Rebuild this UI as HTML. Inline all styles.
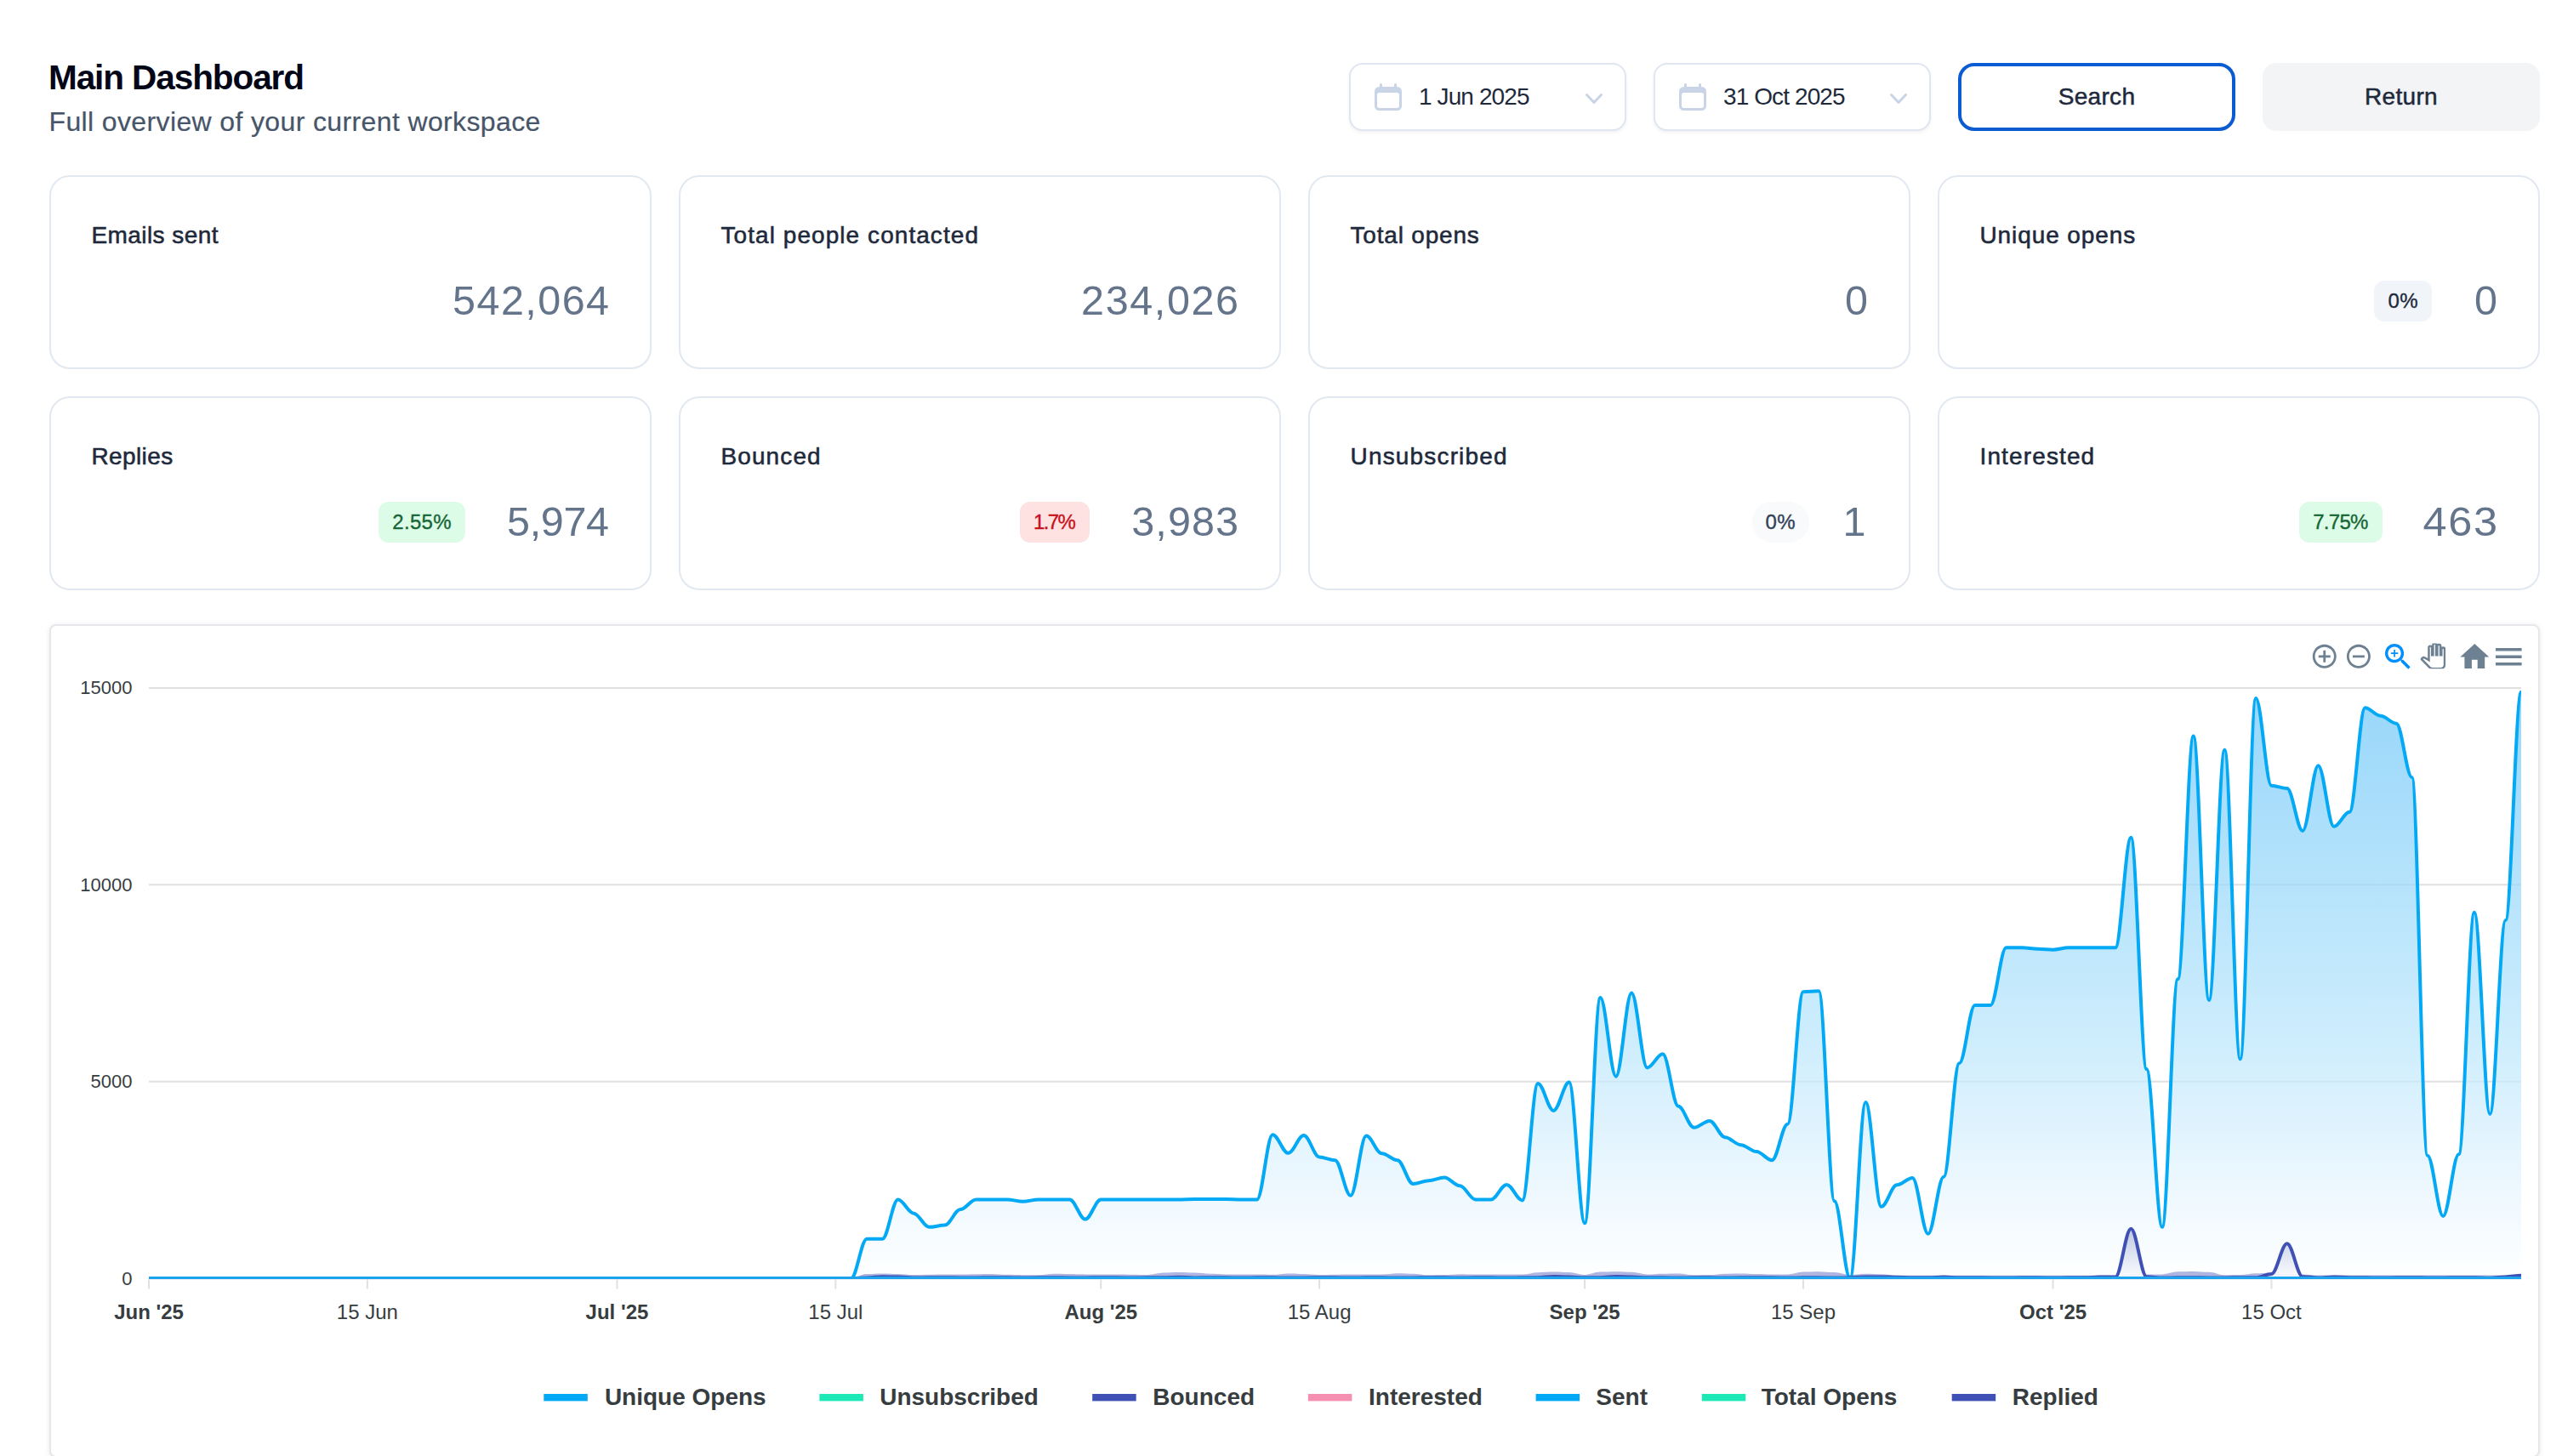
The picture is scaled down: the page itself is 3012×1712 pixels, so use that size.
<!DOCTYPE html>
<html lang="en"><head><meta charset="utf-8"><title>Main Dashboard</title>
<style>
html,body{margin:0;padding:0;background:#fff}
body{width:3012px;height:1712px;overflow:hidden;position:relative;font-family:"Liberation Sans", sans-serif;-webkit-font-smoothing:antialiased}
.t{position:absolute;white-space:nowrap;margin:0;padding:0;display:block}
.hdr,.filters,.stats{position:absolute;left:0;top:0;width:0;height:0}
button{font:inherit;margin:0;padding:0;cursor:pointer;outline:none}
.ic{position:absolute;display:block}
.sel{position:absolute;box-sizing:border-box;border:2px solid #dfe6f1;border-radius:16px;background:#fff;box-shadow:0 2px 4px rgba(15,23,42,.06)}
.btn-search{position:absolute;box-sizing:border-box;border:4px solid #0b5bd3;border-radius:19px;background:#fff}
.btn-return{position:absolute;box-sizing:border-box;border:0;border-radius:16px;background:#f3f4f6}
.card{position:absolute;box-sizing:border-box;width:708px;height:228px;border:2px solid #e2e8f0;border-radius:24px;background:#fff}
.badge{position:absolute;box-sizing:border-box;height:48px;line-height:48px;font-size:24px;text-align:center;white-space:nowrap;letter-spacing:0.3px}
.chartcard{position:absolute;box-sizing:content-box;border:2px solid #e6e7eb;border-radius:8px;background:#fff;box-shadow:0 1px 6px rgba(0,0,0,.09)}
.chart{position:absolute;left:0;top:0;overflow:visible;font-family:"Liberation Sans", sans-serif}
@media (max-width:2000px){body{zoom:0.5}}
</style></head>
<body>
<header class="hdr">
<h1 class="t" style="top:71.32px;font-size:40.5px;line-height:40.5px;color:#020617;font-weight:700;letter-spacing:-1.08px;left:57.00px;">Main Dashboard</h1>
<p class="t" style="top:126.91px;font-size:32px;line-height:32px;color:#475569;font-weight:400;letter-spacing:0.37px;-webkit-text-stroke:0.2px #475569;left:57.50px;">Full overview of your current workspace</p>
<div class="filters">
<div class="sel" style="left:1586px;top:74px;width:326px;height:80px">
<svg class="ic" viewBox="0 0 20 20" width="40" height="40" style="left:24px;top:18px" fill="#c9d5e6"><path fill-rule="evenodd" clip-rule="evenodd" d="M5.75 2a.75.75 0 01.75.75V4h7V2.75a.75.75 0 011.5 0V4h.25A2.75 2.75 0 0118 6.75v8.5A2.75 2.75 0 0115.25 18H4.750A2.75 2.75 0 012 15.25v-8.5A2.75 2.75 0 014.75 4H5V2.75A.75.75 0 015.75 2zm-1 5.500c-.69 0-1.25.56-1.25 1.25v6.5c0 .69.56 1.25 1.25 1.25h10.5c.69 0 1.25-.56 1.25-1.25v-6.5c0-.69-.56-1.25-1.25-1.25H4.75z"/></svg>
<span class="t" style="top:23.90px;font-size:28px;line-height:28px;color:#1e293b;font-weight:400;letter-spacing:-0.9px;left:80.00px;">1 Jun 2025</span>
<svg class="ic" viewBox="0 0 20 20" width="40" height="40" style="left:266px;top:20px" fill="#c9d5e6"><path fill-rule="evenodd" clip-rule="evenodd" d="M5.23 7.21a.75.75 0 011.06.02L10 11.168l3.71-3.938a.75.75 0 111.08 1.04l-4.25 4.5a.75.75 0 01-1.08 0l-4.25-4.5a.75.75 0 01.02-1.06z"/></svg>
</div>
<div class="sel" style="left:1944px;top:74px;width:326px;height:80px">
<svg class="ic" viewBox="0 0 20 20" width="40" height="40" style="left:24px;top:18px" fill="#c9d5e6"><path fill-rule="evenodd" clip-rule="evenodd" d="M5.75 2a.75.75 0 01.75.75V4h7V2.75a.75.75 0 011.5 0V4h.25A2.75 2.75 0 0118 6.75v8.5A2.75 2.75 0 0115.25 18H4.750A2.75 2.75 0 012 15.25v-8.5A2.75 2.75 0 014.75 4H5V2.75A.75.75 0 015.75 2zm-1 5.500c-.69 0-1.25.56-1.25 1.25v6.5c0 .69.56 1.25 1.25 1.25h10.5c.69 0 1.25-.56 1.25-1.25v-6.5c0-.69-.56-1.25-1.25-1.25H4.75z"/></svg>
<span class="t" style="top:23.90px;font-size:28px;line-height:28px;color:#1e293b;font-weight:400;letter-spacing:-0.9px;left:80.00px;">31 Oct 2025</span>
<svg class="ic" viewBox="0 0 20 20" width="40" height="40" style="left:266px;top:20px" fill="#c9d5e6"><path fill-rule="evenodd" clip-rule="evenodd" d="M5.23 7.21a.75.75 0 011.06.02L10 11.168l3.71-3.938a.75.75 0 111.08 1.04l-4.25 4.5a.75.75 0 01-1.08 0l-4.25-4.5a.75.75 0 01.02-1.06z"/></svg>
</div>
<button type="button" class="btn-search" style="left:2302px;top:74px;width:326px;height:80px">
<span class="t" style="top:21.90px;font-size:28px;line-height:28px;color:#1e293b;font-weight:400;letter-spacing:0.3px;-webkit-text-stroke:0.5px #1e293b;left:159.00px;transform:translateX(-50%);">Search</span>
</button>
<button type="button" class="btn-return" style="left:2660px;top:74px;width:326px;height:80px">
<span class="t" style="top:25.90px;font-size:28px;line-height:28px;color:#1e293b;font-weight:400;letter-spacing:0.3px;-webkit-text-stroke:0.5px #1e293b;left:163.00px;transform:translateX(-50%);">Return</span>
</button>
</div>
</header>
<section class="stats">
<div class="card" style="left:58px;top:206px">
<div class="t lbl" style="top:54.50px;font-size:28px;line-height:28px;color:#1e293b;font-weight:400;letter-spacing:0.42px;-webkit-text-stroke:0.55px #1e293b;left:47.50px;">Emails sent</div>
<div class="t val" style="top:120.94px;font-size:48.5px;line-height:48.5px;color:#64748b;font-weight:400;letter-spacing:1.43px;right:46.57px;">542,064</div>
</div>
<div class="card" style="left:798px;top:206px">
<div class="t lbl" style="top:54.50px;font-size:28px;line-height:28px;color:#1e293b;font-weight:400;letter-spacing:1.06px;-webkit-text-stroke:0.55px #1e293b;left:47.50px;">Total people contacted</div>
<div class="t val" style="top:120.94px;font-size:48.5px;line-height:48.5px;color:#64748b;font-weight:400;letter-spacing:1.6px;right:46.40px;">234,026</div>
</div>
<div class="card" style="left:1538px;top:206px">
<div class="t lbl" style="top:54.50px;font-size:28px;line-height:28px;color:#1e293b;font-weight:400;letter-spacing:0.81px;-webkit-text-stroke:0.55px #1e293b;left:47.50px;">Total opens</div>
<div class="t val" style="top:120.94px;font-size:48.5px;line-height:48.5px;color:#64748b;font-weight:400;right:48.00px;">0</div>
</div>
<div class="card" style="left:2278px;top:206px">
<div class="t lbl" style="top:54.50px;font-size:28px;line-height:28px;color:#1e293b;font-weight:400;letter-spacing:0.9px;-webkit-text-stroke:0.55px #1e293b;left:47.50px;">Unique opens</div>
<span class="badge" style="left:511px;top:122px;width:68px;background:#f1f5f9;color:#1e293b;border-radius:12px;-webkit-text-stroke:0.35px #1e293b;letter-spacing:0.3px;text-indent:0.3px">0%</span>
<div class="t val" style="top:120.94px;font-size:48.5px;line-height:48.5px;color:#64748b;font-weight:400;right:48.00px;">0</div>
</div>
<div class="card" style="left:58px;top:466px">
<div class="t lbl" style="top:54.50px;font-size:28px;line-height:28px;color:#1e293b;font-weight:400;letter-spacing:0.38px;-webkit-text-stroke:0.55px #1e293b;left:47.50px;">Replies</div>
<span class="badge" style="left:385px;top:122px;width:102px;background:#dcfce7;color:#166534;border-radius:12px;-webkit-text-stroke:0.35px #166534;letter-spacing:0.3px;text-indent:0.3px">2.55%</span>
<div class="t val" style="top:120.94px;font-size:48.5px;line-height:48.5px;color:#64748b;font-weight:400;letter-spacing:-0.35px;right:48.35px;">5,974</div>
</div>
<div class="card" style="left:798px;top:466px">
<div class="t lbl" style="top:54.50px;font-size:28px;line-height:28px;color:#1e293b;font-weight:400;letter-spacing:1.1px;-webkit-text-stroke:0.55px #1e293b;left:47.50px;">Bounced</div>
<span class="badge" style="left:399px;top:122px;width:82px;background:#fee2e2;color:#c8101c;border-radius:12px;-webkit-text-stroke:0.35px #c8101c;letter-spacing:-1.6px;text-indent:-1.6px">1.7%</span>
<div class="t val" style="top:120.94px;font-size:48.5px;line-height:48.5px;color:#64748b;font-weight:400;letter-spacing:1.1px;right:46.90px;">3,983</div>
</div>
<div class="card" style="left:1538px;top:466px">
<div class="t lbl" style="top:54.50px;font-size:28px;line-height:28px;color:#1e293b;font-weight:400;letter-spacing:1.17px;-webkit-text-stroke:0.55px #1e293b;left:47.50px;">Unsubscribed</div>
<span class="badge" style="left:519.5px;top:122px;width:67px;background:#f8fafc;color:#334155;border-radius:24px;-webkit-text-stroke:0.35px #334155;letter-spacing:0.3px;text-indent:0.3px">0%</span>
<div class="t val" style="top:120.94px;font-size:48.5px;line-height:48.5px;color:#64748b;font-weight:400;right:50.50px;">1</div>
</div>
<div class="card" style="left:2278px;top:466px">
<div class="t lbl" style="top:54.50px;font-size:28px;line-height:28px;color:#1e293b;font-weight:400;letter-spacing:1.13px;-webkit-text-stroke:0.55px #1e293b;left:47.50px;">Interested</div>
<span class="badge" style="left:423px;top:122px;width:97.5px;background:#dcfce7;color:#166534;border-radius:12px;-webkit-text-stroke:0.35px #166534;letter-spacing:-0.7px;text-indent:-0.7px">7.75%</span>
<div class="t val" style="top:120.94px;font-size:48.5px;line-height:48.5px;color:#64748b;font-weight:400;letter-spacing:1.6px;right:46.40px;transform:scaleX(1.04);transform-origin:100% 50%;">463</div>
</div>
</section>
<section class="chartcard" style="left:58px;top:734px;width:2924px;height:976px">
<svg class="chart" width="2924" height="976" viewBox="60 736 2924 976">
<defs>
<linearGradient id="gS" x1="0" y1="0" x2="0" y2="1"><stop offset="0" stop-color="#70c7f8" stop-opacity="0.72"/><stop offset="0.59" stop-color="#bae6fc" stop-opacity="0.72"/><stop offset="0.85" stop-color="#e7f5fe" stop-opacity="0.72"/><stop offset="1" stop-color="#feffff" stop-opacity="0.72"/></linearGradient>
<linearGradient id="gR" x1="0" y1="0" x2="0" y2="1"><stop offset="0" stop-color="#b9c3de" stop-opacity="0.9"/><stop offset="0.9" stop-color="#f4f6fb" stop-opacity="0.9"/><stop offset="1" stop-color="#ffffff" stop-opacity="0.9"/></linearGradient>
<linearGradient id="gB" x1="0" y1="0" x2="0" y2="1"><stop offset="0" stop-color="#3f51b5" stop-opacity="0.55"/><stop offset="1" stop-color="#3f51b5" stop-opacity="0.3"/></linearGradient>
<clipPath id="cp"><rect x="172" y="800" width="2796" height="704"/></clipPath>
</defs>
<line x1="175.0" x2="2964.0" y1="809.00" y2="809.00" stroke="#e0e0e0" stroke-width="2"/>
<line x1="175.0" x2="2964.0" y1="1040.33" y2="1040.33" stroke="#e0e0e0" stroke-width="2"/>
<line x1="175.0" x2="2964.0" y1="1271.67" y2="1271.67" stroke="#e0e0e0" stroke-width="2"/>
<line x1="175.0" x2="2964.0" y1="1503.5" y2="1503.5" stroke="#e0e0e0" stroke-width="2"/>
<line x1="175.00" x2="175.00" y1="1504.5" y2="1515.5" stroke="#e0e0e0" stroke-width="2"/>
<line x1="431.88" x2="431.88" y1="1504.5" y2="1515.5" stroke="#e0e0e0" stroke-width="2"/>
<line x1="725.46" x2="725.46" y1="1504.5" y2="1515.5" stroke="#e0e0e0" stroke-width="2"/>
<line x1="982.34" x2="982.34" y1="1504.5" y2="1515.5" stroke="#e0e0e0" stroke-width="2"/>
<line x1="1294.27" x2="1294.27" y1="1504.5" y2="1515.5" stroke="#e0e0e0" stroke-width="2"/>
<line x1="1551.15" x2="1551.15" y1="1504.5" y2="1515.5" stroke="#e0e0e0" stroke-width="2"/>
<line x1="1863.08" x2="1863.08" y1="1504.5" y2="1515.5" stroke="#e0e0e0" stroke-width="2"/>
<line x1="2119.96" x2="2119.96" y1="1504.5" y2="1515.5" stroke="#e0e0e0" stroke-width="2"/>
<line x1="2413.54" x2="2413.54" y1="1504.5" y2="1515.5" stroke="#e0e0e0" stroke-width="2"/>
<line x1="2670.42" x2="2670.42" y1="1504.5" y2="1515.5" stroke="#e0e0e0" stroke-width="2"/>
<g clip-path="url(#cp)">
<path d="M175.00 1503.00C181.42 1503.00 186.93 1503.00 193.35 1503.00C199.77 1503.00 205.28 1503.00 211.70 1503.00C218.12 1503.00 223.62 1503.00 230.05 1503.00C236.47 1503.00 241.97 1503.00 248.39 1503.00C254.82 1503.00 260.32 1503.00 266.74 1503.00C273.17 1503.00 278.67 1503.00 285.09 1503.00C291.51 1503.00 297.02 1503.00 303.44 1503.00C309.86 1503.00 315.37 1503.00 321.79 1503.00C328.21 1503.00 333.72 1503.00 340.14 1503.00C346.56 1503.00 352.06 1503.00 358.49 1503.00C364.91 1503.00 370.41 1503.00 376.84 1503.00C383.26 1503.00 388.76 1503.00 395.18 1503.00C401.61 1503.00 407.11 1503.00 413.53 1503.00C419.95 1503.00 425.46 1503.00 431.88 1503.00C438.30 1503.00 443.81 1503.00 450.23 1503.00C456.65 1503.00 462.16 1503.00 468.58 1503.00C475.00 1503.00 480.51 1503.00 486.93 1503.00C493.35 1503.00 498.85 1503.00 505.28 1503.00C511.70 1503.00 517.20 1503.00 523.62 1503.00C530.05 1503.00 535.55 1503.00 541.97 1503.00C548.40 1503.00 553.90 1503.00 560.32 1503.00C566.74 1503.00 572.25 1503.00 578.67 1503.00C585.09 1503.00 590.60 1503.00 597.02 1503.00C603.44 1503.00 608.95 1503.00 615.37 1503.00C621.79 1503.00 627.30 1503.00 633.72 1503.00C640.14 1503.00 645.64 1503.00 652.07 1503.00C658.49 1503.00 663.99 1503.00 670.41 1503.00C676.84 1503.00 682.34 1503.00 688.76 1503.00C695.19 1503.00 700.69 1503.00 707.11 1503.00C713.53 1503.00 719.04 1503.00 725.46 1503.00C731.88 1503.00 737.39 1503.00 743.81 1503.00C750.23 1503.00 755.74 1503.00 762.16 1503.00C768.58 1503.00 774.08 1503.00 780.51 1503.00C786.93 1503.00 792.43 1503.00 798.86 1503.00C805.28 1503.00 810.78 1503.00 817.20 1503.00C823.63 1503.00 829.13 1503.00 835.55 1503.00C841.97 1503.00 847.48 1503.00 853.90 1503.00C860.32 1503.00 865.83 1503.00 872.25 1503.00C878.67 1503.00 884.18 1503.00 890.60 1503.00C897.02 1503.00 902.53 1503.00 908.95 1503.00C915.37 1503.00 920.87 1503.00 927.30 1503.00C933.72 1503.00 939.22 1503.00 945.64 1503.00C952.07 1503.00 957.57 1503.00 963.99 1503.00C970.42 1503.00 975.92 1503.00 982.34 1503.00C988.76 1503.00 994.27 1503.00 1000.69 1503.00C1007.11 1503.00 1012.62 1456.73 1019.04 1456.73C1025.46 1456.73 1030.97 1456.73 1037.39 1456.73C1043.81 1456.73 1049.31 1410.47 1055.74 1410.47C1062.16 1410.47 1067.66 1426.66 1074.09 1426.66C1080.51 1426.66 1086.01 1442.85 1092.43 1442.85C1098.86 1442.85 1104.36 1440.54 1110.78 1440.54C1117.20 1440.54 1122.71 1422.03 1129.13 1422.03C1135.55 1422.03 1141.06 1410.47 1147.48 1410.47C1153.90 1410.47 1159.41 1410.47 1165.83 1410.47C1172.25 1410.47 1177.76 1410.47 1184.18 1410.47C1190.60 1410.47 1196.10 1412.78 1202.53 1412.78C1208.95 1412.78 1214.45 1410.47 1220.88 1410.47C1227.30 1410.47 1232.80 1410.47 1239.22 1410.47C1245.65 1410.47 1251.15 1410.47 1257.57 1410.47C1263.99 1410.47 1269.50 1433.60 1275.92 1433.60C1282.34 1433.60 1287.85 1410.47 1294.27 1410.47C1300.69 1410.47 1306.20 1410.47 1312.62 1410.47C1319.04 1410.47 1324.55 1410.47 1330.97 1410.47C1337.39 1410.47 1342.89 1410.47 1349.32 1410.47C1355.74 1410.47 1361.24 1410.47 1367.66 1410.47C1374.09 1410.47 1379.59 1410.47 1386.01 1410.47C1392.44 1410.47 1397.94 1410.00 1404.36 1410.00C1410.78 1410.00 1416.29 1410.00 1422.71 1410.00C1429.13 1410.00 1434.64 1410.00 1441.06 1410.00C1447.48 1410.00 1452.99 1410.47 1459.41 1410.47C1465.83 1410.47 1471.33 1410.47 1477.76 1410.47C1484.18 1410.47 1489.68 1334.13 1496.11 1334.13C1502.53 1334.13 1508.03 1355.87 1514.45 1355.87C1520.88 1355.87 1526.38 1335.05 1532.80 1335.05C1539.22 1335.05 1544.73 1360.50 1551.15 1360.50C1557.57 1360.50 1563.08 1364.20 1569.50 1364.20C1575.92 1364.20 1581.43 1405.84 1587.85 1405.84C1594.27 1405.84 1599.78 1335.51 1606.20 1335.51C1612.62 1335.51 1618.12 1356.33 1624.55 1356.33C1630.97 1356.33 1636.47 1364.20 1642.89 1364.20C1649.32 1364.20 1654.82 1391.96 1661.24 1391.96C1667.67 1391.96 1673.17 1388.26 1679.59 1388.26C1686.01 1388.26 1691.52 1384.56 1697.94 1384.56C1704.36 1384.56 1709.87 1394.27 1716.29 1394.27C1722.71 1394.27 1728.22 1410.47 1734.64 1410.47C1741.06 1410.47 1746.56 1410.47 1752.99 1410.47C1759.41 1410.47 1764.91 1392.89 1771.34 1392.89C1777.76 1392.89 1783.26 1411.39 1789.68 1411.39C1796.11 1411.39 1801.61 1273.98 1808.03 1273.98C1814.45 1273.98 1819.96 1305.90 1826.38 1305.90C1832.80 1305.90 1838.31 1272.59 1844.73 1272.59C1851.15 1272.59 1856.66 1438.23 1863.08 1438.23C1869.50 1438.23 1875.01 1173.12 1881.43 1173.12C1887.85 1173.12 1893.35 1265.65 1899.78 1265.65C1906.20 1265.65 1911.70 1167.57 1918.12 1167.57C1924.55 1167.57 1930.05 1255.47 1936.47 1255.47C1942.90 1255.47 1948.40 1239.28 1954.82 1239.28C1961.24 1239.28 1966.75 1300.81 1973.17 1300.81C1979.59 1300.81 1985.10 1325.80 1991.52 1325.80C1997.94 1325.80 2003.45 1317.93 2009.87 1317.93C2016.29 1317.93 2021.80 1337.37 2028.22 1337.37C2034.64 1337.37 2040.14 1346.16 2046.57 1346.16C2052.99 1346.16 2058.49 1354.02 2064.91 1354.02C2071.34 1354.02 2076.84 1364.20 2083.26 1364.20C2089.69 1364.20 2095.19 1321.63 2101.61 1321.63C2108.03 1321.63 2113.54 1166.18 2119.96 1166.18C2126.38 1166.18 2131.89 1165.25 2138.31 1165.25C2144.73 1165.25 2150.24 1412.32 2156.66 1412.32C2163.08 1412.32 2168.58 1503.00 2175.01 1503.00C2181.43 1503.00 2186.93 1295.96 2193.36 1295.96C2199.78 1295.96 2205.28 1418.79 2211.70 1418.79C2218.13 1418.79 2223.63 1393.35 2230.05 1393.35C2236.47 1393.35 2241.98 1385.02 2248.40 1385.02C2254.82 1385.02 2260.33 1450.72 2266.75 1450.72C2273.17 1450.72 2278.68 1383.63 2285.10 1383.63C2291.52 1383.63 2297.03 1250.15 2303.45 1250.15C2309.87 1250.15 2315.37 1181.91 2321.80 1181.91C2328.22 1181.91 2333.72 1181.91 2340.14 1181.91C2346.57 1181.91 2352.07 1114.36 2358.49 1114.36C2364.92 1114.36 2370.42 1114.36 2376.84 1114.36C2383.26 1114.36 2388.77 1115.75 2395.19 1115.75C2401.61 1115.75 2407.12 1116.67 2413.54 1116.67C2419.96 1116.67 2425.47 1114.36 2431.89 1114.36C2438.31 1114.36 2443.81 1114.36 2450.24 1114.36C2456.66 1114.36 2462.16 1114.36 2468.59 1114.36C2475.01 1114.36 2480.51 1114.36 2486.93 1114.36C2493.36 1114.36 2498.86 984.81 2505.28 984.81C2511.70 984.81 2517.21 1257.09 2523.63 1257.09C2530.05 1257.09 2535.56 1442.85 2541.98 1442.85C2548.40 1442.85 2553.91 1151.37 2560.33 1151.37C2566.75 1151.37 2572.26 865.45 2578.68 865.45C2585.10 865.45 2590.60 1175.89 2597.03 1175.89C2603.45 1175.89 2608.95 881.64 2615.38 881.64C2621.80 881.64 2627.30 1245.29 2633.72 1245.29C2640.15 1245.29 2645.65 821.03 2652.07 821.03C2658.49 821.03 2664.00 923.74 2670.42 923.74C2676.84 923.74 2682.35 926.98 2688.77 926.98C2695.19 926.98 2700.70 976.95 2707.12 976.95C2713.54 976.95 2719.05 900.15 2725.47 900.15C2731.89 900.15 2737.39 971.86 2743.82 971.86C2750.24 971.86 2755.74 954.74 2762.16 954.74C2768.59 954.74 2774.09 832.13 2780.51 832.13C2786.94 832.13 2792.44 841.85 2798.86 841.85C2805.28 841.85 2810.79 850.64 2817.21 850.64C2823.63 850.64 2829.14 914.03 2835.56 914.03C2841.98 914.03 2847.49 1358.65 2853.91 1358.65C2860.33 1358.65 2865.83 1429.90 2872.26 1429.90C2878.68 1429.90 2884.18 1357.26 2890.61 1357.26C2897.03 1357.26 2902.53 1072.72 2908.95 1072.72C2915.38 1072.72 2920.88 1310.07 2927.30 1310.07C2933.72 1310.07 2939.23 1081.97 2945.65 1081.97C2952.07 1081.97 2957.58 813.63 2964.00 813.63L2964.00 1503.00L175.00 1503.00Z" fill="url(#gS)" stroke="none"/>
<path d="M175.00 1503.00C181.42 1503.00 186.93 1503.00 193.35 1503.00C199.77 1503.00 205.28 1503.00 211.70 1503.00C218.12 1503.00 223.62 1503.00 230.05 1503.00C236.47 1503.00 241.97 1503.00 248.39 1503.00C254.82 1503.00 260.32 1503.00 266.74 1503.00C273.17 1503.00 278.67 1503.00 285.09 1503.00C291.51 1503.00 297.02 1503.00 303.44 1503.00C309.86 1503.00 315.37 1503.00 321.79 1503.00C328.21 1503.00 333.72 1503.00 340.14 1503.00C346.56 1503.00 352.06 1503.00 358.49 1503.00C364.91 1503.00 370.41 1503.00 376.84 1503.00C383.26 1503.00 388.76 1503.00 395.18 1503.00C401.61 1503.00 407.11 1503.00 413.53 1503.00C419.95 1503.00 425.46 1503.00 431.88 1503.00C438.30 1503.00 443.81 1503.00 450.23 1503.00C456.65 1503.00 462.16 1503.00 468.58 1503.00C475.00 1503.00 480.51 1503.00 486.93 1503.00C493.35 1503.00 498.85 1503.00 505.28 1503.00C511.70 1503.00 517.20 1503.00 523.62 1503.00C530.05 1503.00 535.55 1503.00 541.97 1503.00C548.40 1503.00 553.90 1503.00 560.32 1503.00C566.74 1503.00 572.25 1503.00 578.67 1503.00C585.09 1503.00 590.60 1503.00 597.02 1503.00C603.44 1503.00 608.95 1503.00 615.37 1503.00C621.79 1503.00 627.30 1503.00 633.72 1503.00C640.14 1503.00 645.64 1503.00 652.07 1503.00C658.49 1503.00 663.99 1503.00 670.41 1503.00C676.84 1503.00 682.34 1503.00 688.76 1503.00C695.19 1503.00 700.69 1503.00 707.11 1503.00C713.53 1503.00 719.04 1503.00 725.46 1503.00C731.88 1503.00 737.39 1503.00 743.81 1503.00C750.23 1503.00 755.74 1503.00 762.16 1503.00C768.58 1503.00 774.08 1503.00 780.51 1503.00C786.93 1503.00 792.43 1503.00 798.86 1503.00C805.28 1503.00 810.78 1503.00 817.20 1503.00C823.63 1503.00 829.13 1503.00 835.55 1503.00C841.97 1503.00 847.48 1503.00 853.90 1503.00C860.32 1503.00 865.83 1503.00 872.25 1503.00C878.67 1503.00 884.18 1503.00 890.60 1503.00C897.02 1503.00 902.53 1503.00 908.95 1503.00C915.37 1503.00 920.87 1503.00 927.30 1503.00C933.72 1503.00 939.22 1503.00 945.64 1503.00C952.07 1503.00 957.57 1503.00 963.99 1503.00C970.42 1503.00 975.92 1503.00 982.34 1503.00C988.76 1503.00 994.27 1503.00 1000.69 1503.00C1007.11 1503.00 1012.62 1497.91 1019.04 1497.91C1025.46 1497.91 1030.97 1497.45 1037.39 1497.45C1043.81 1497.45 1049.31 1497.91 1055.74 1497.91C1062.16 1497.91 1067.66 1499.11 1074.09 1499.11C1080.51 1499.11 1086.01 1498.79 1092.43 1498.79C1098.86 1498.79 1104.36 1498.56 1110.78 1498.56C1117.20 1498.56 1122.71 1498.42 1129.13 1498.42C1135.55 1498.42 1141.06 1498.14 1147.48 1498.14C1153.90 1498.14 1159.41 1497.91 1165.83 1497.91C1172.25 1497.91 1177.76 1498.79 1184.18 1498.79C1190.60 1498.79 1196.10 1499.16 1202.53 1499.16C1208.95 1499.16 1214.45 1499.30 1220.88 1499.30C1227.30 1499.30 1232.80 1497.68 1239.22 1497.68C1245.65 1497.68 1251.15 1497.91 1257.57 1497.91C1263.99 1497.91 1269.50 1498.47 1275.92 1498.47C1282.34 1498.47 1287.85 1498.42 1294.27 1498.42C1300.69 1498.42 1306.20 1498.47 1312.62 1498.47C1319.04 1498.47 1324.55 1498.65 1330.97 1498.65C1337.39 1498.65 1342.89 1498.97 1349.32 1498.97C1355.74 1498.97 1361.24 1496.52 1367.66 1496.52C1374.09 1496.52 1379.59 1496.06 1386.01 1496.06C1392.44 1496.06 1397.94 1496.52 1404.36 1496.52C1410.78 1496.52 1416.29 1497.68 1422.71 1497.68C1429.13 1497.68 1434.64 1498.42 1441.06 1498.42C1447.48 1498.42 1452.99 1498.42 1459.41 1498.42C1465.83 1498.42 1471.33 1498.56 1477.76 1498.56C1484.18 1498.56 1489.68 1498.79 1496.11 1498.79C1502.53 1498.79 1508.03 1497.45 1514.45 1497.45C1520.88 1497.45 1526.38 1497.91 1532.80 1497.91C1539.22 1497.91 1544.73 1498.93 1551.15 1498.93C1557.57 1498.93 1563.08 1498.65 1569.50 1498.65C1575.92 1498.65 1581.43 1498.47 1587.85 1498.47C1594.27 1498.47 1599.78 1498.42 1606.20 1498.42C1612.62 1498.42 1618.12 1498.47 1624.55 1498.47C1630.97 1498.47 1636.47 1497.22 1642.89 1497.22C1649.32 1497.22 1654.82 1497.68 1661.24 1497.68C1667.67 1497.68 1673.17 1499.34 1679.59 1499.34C1686.01 1499.34 1691.52 1499.11 1697.94 1499.11C1704.36 1499.11 1709.87 1498.14 1716.29 1498.14C1722.71 1498.14 1728.22 1498.56 1734.64 1498.56C1741.06 1498.56 1746.56 1498.42 1752.99 1498.42C1759.41 1498.42 1764.91 1498.42 1771.34 1498.42C1777.76 1498.42 1783.26 1498.56 1789.68 1498.56C1796.11 1498.56 1801.61 1496.29 1808.03 1496.29C1814.45 1496.29 1819.96 1495.60 1826.38 1495.60C1832.80 1495.60 1838.31 1496.06 1844.73 1496.06C1851.15 1496.06 1856.66 1498.93 1863.08 1498.93C1869.50 1498.93 1875.01 1495.60 1881.43 1495.60C1887.85 1495.60 1893.35 1495.13 1899.78 1495.13C1906.20 1495.13 1911.70 1495.83 1918.12 1495.83C1924.55 1495.83 1930.05 1498.47 1936.47 1498.47C1942.90 1498.47 1948.40 1497.68 1954.82 1497.68C1961.24 1497.68 1966.75 1497.45 1973.17 1497.45C1979.59 1497.45 1985.10 1499.34 1991.52 1499.34C1997.94 1499.34 2003.45 1499.11 2009.87 1499.11C2016.29 1499.11 2021.80 1497.68 2028.22 1497.68C2034.64 1497.68 2040.14 1497.45 2046.57 1497.45C2052.99 1497.45 2058.49 1497.91 2064.91 1497.91C2071.34 1497.91 2076.84 1498.42 2083.26 1498.42C2089.69 1498.42 2095.19 1498.56 2101.61 1498.56C2108.03 1498.56 2113.54 1495.60 2119.96 1495.60C2126.38 1495.60 2131.89 1495.13 2138.31 1495.13C2144.73 1495.13 2150.24 1496.06 2156.66 1496.06C2163.08 1496.06 2168.58 1498.93 2175.01 1498.93C2181.43 1498.93 2186.93 1497.68 2193.36 1497.68C2199.78 1497.68 2205.28 1498.14 2211.70 1498.14C2218.13 1498.14 2223.63 1499.76 2230.05 1499.76C2236.47 1499.76 2241.98 1499.76 2248.40 1499.76C2254.82 1499.76 2260.33 1499.76 2266.75 1499.76C2273.17 1499.76 2278.68 1499.76 2285.10 1499.76C2291.52 1499.76 2297.03 1499.76 2303.45 1499.76C2309.87 1499.76 2315.37 1499.76 2321.80 1499.76C2328.22 1499.76 2333.72 1499.76 2340.14 1499.76C2346.57 1499.76 2352.07 1499.76 2358.49 1499.76C2364.92 1499.76 2370.42 1499.76 2376.84 1499.76C2383.26 1499.76 2388.77 1499.76 2395.19 1499.76C2401.61 1499.76 2407.12 1499.76 2413.54 1499.76C2419.96 1499.76 2425.47 1499.76 2431.89 1499.76C2438.31 1499.76 2443.81 1499.76 2450.24 1499.76C2456.66 1499.76 2462.16 1499.76 2468.59 1499.76C2475.01 1499.76 2480.51 1499.76 2486.93 1499.76C2493.36 1499.76 2498.86 1498.65 2505.28 1498.65C2511.70 1498.65 2517.21 1498.47 2523.63 1498.47C2530.05 1498.47 2535.56 1498.42 2541.98 1498.42C2548.40 1498.42 2553.91 1495.37 2560.33 1495.37C2566.75 1495.37 2572.26 1494.90 2578.68 1494.90C2585.10 1494.90 2590.60 1495.83 2597.03 1495.83C2603.45 1495.83 2608.95 1499.34 2615.38 1499.34C2621.80 1499.34 2627.30 1499.11 2633.72 1499.11C2640.15 1499.11 2645.65 1497.22 2652.07 1497.22C2658.49 1497.22 2664.00 1496.75 2670.42 1496.75C2676.84 1496.75 2682.35 1498.42 2688.77 1498.42C2695.19 1498.42 2700.70 1498.42 2707.12 1498.42C2713.54 1498.42 2719.05 1499.53 2725.47 1499.53C2731.89 1499.53 2737.39 1499.53 2743.82 1499.53C2750.24 1499.53 2755.74 1499.53 2762.16 1499.53C2768.59 1499.53 2774.09 1499.53 2780.51 1499.53C2786.94 1499.53 2792.44 1499.53 2798.86 1499.53C2805.28 1499.53 2810.79 1499.53 2817.21 1499.53C2823.63 1499.53 2829.14 1499.53 2835.56 1499.53C2841.98 1499.53 2847.49 1499.53 2853.91 1499.53C2860.33 1499.53 2865.83 1499.53 2872.26 1499.53C2878.68 1499.53 2884.18 1499.53 2890.61 1499.53C2897.03 1499.53 2902.53 1499.53 2908.95 1499.53C2915.38 1499.53 2920.88 1499.53 2927.30 1499.53C2933.72 1499.53 2939.23 1499.53 2945.65 1499.53C2952.07 1499.53 2957.58 1498.74 2964.00 1498.74L2964.00 1503.00L175.00 1503.00Z" fill="#9fa8da" fill-opacity="0.85" stroke="none"/>
<path d="M175.00 1503.00C181.42 1503.00 186.93 1503.00 193.35 1503.00C199.77 1503.00 205.28 1503.00 211.70 1503.00C218.12 1503.00 223.62 1503.00 230.05 1503.00C236.47 1503.00 241.97 1503.00 248.39 1503.00C254.82 1503.00 260.32 1503.00 266.74 1503.00C273.17 1503.00 278.67 1503.00 285.09 1503.00C291.51 1503.00 297.02 1503.00 303.44 1503.00C309.86 1503.00 315.37 1503.00 321.79 1503.00C328.21 1503.00 333.72 1503.00 340.14 1503.00C346.56 1503.00 352.06 1503.00 358.49 1503.00C364.91 1503.00 370.41 1503.00 376.84 1503.00C383.26 1503.00 388.76 1503.00 395.18 1503.00C401.61 1503.00 407.11 1503.00 413.53 1503.00C419.95 1503.00 425.46 1503.00 431.88 1503.00C438.30 1503.00 443.81 1503.00 450.23 1503.00C456.65 1503.00 462.16 1503.00 468.58 1503.00C475.00 1503.00 480.51 1503.00 486.93 1503.00C493.35 1503.00 498.85 1503.00 505.28 1503.00C511.70 1503.00 517.20 1503.00 523.62 1503.00C530.05 1503.00 535.55 1503.00 541.97 1503.00C548.40 1503.00 553.90 1503.00 560.32 1503.00C566.74 1503.00 572.25 1503.00 578.67 1503.00C585.09 1503.00 590.60 1503.00 597.02 1503.00C603.44 1503.00 608.95 1503.00 615.37 1503.00C621.79 1503.00 627.30 1503.00 633.72 1503.00C640.14 1503.00 645.64 1503.00 652.07 1503.00C658.49 1503.00 663.99 1503.00 670.41 1503.00C676.84 1503.00 682.34 1503.00 688.76 1503.00C695.19 1503.00 700.69 1503.00 707.11 1503.00C713.53 1503.00 719.04 1503.00 725.46 1503.00C731.88 1503.00 737.39 1503.00 743.81 1503.00C750.23 1503.00 755.74 1503.00 762.16 1503.00C768.58 1503.00 774.08 1503.00 780.51 1503.00C786.93 1503.00 792.43 1503.00 798.86 1503.00C805.28 1503.00 810.78 1503.00 817.20 1503.00C823.63 1503.00 829.13 1503.00 835.55 1503.00C841.97 1503.00 847.48 1503.00 853.90 1503.00C860.32 1503.00 865.83 1503.00 872.25 1503.00C878.67 1503.00 884.18 1503.00 890.60 1503.00C897.02 1503.00 902.53 1503.00 908.95 1503.00C915.37 1503.00 920.87 1503.00 927.30 1503.00C933.72 1503.00 939.22 1503.00 945.64 1503.00C952.07 1503.00 957.57 1503.00 963.99 1503.00C970.42 1503.00 975.92 1503.00 982.34 1503.00C988.76 1503.00 994.27 1503.00 1000.69 1503.00C1007.11 1503.00 1012.62 1456.73 1019.04 1456.73C1025.46 1456.73 1030.97 1456.73 1037.39 1456.73C1043.81 1456.73 1049.31 1410.47 1055.74 1410.47C1062.16 1410.47 1067.66 1426.66 1074.09 1426.66C1080.51 1426.66 1086.01 1442.85 1092.43 1442.85C1098.86 1442.85 1104.36 1440.54 1110.78 1440.54C1117.20 1440.54 1122.71 1422.03 1129.13 1422.03C1135.55 1422.03 1141.06 1410.47 1147.48 1410.47C1153.90 1410.47 1159.41 1410.47 1165.83 1410.47C1172.25 1410.47 1177.76 1410.47 1184.18 1410.47C1190.60 1410.47 1196.10 1412.78 1202.53 1412.78C1208.95 1412.78 1214.45 1410.47 1220.88 1410.47C1227.30 1410.47 1232.80 1410.47 1239.22 1410.47C1245.65 1410.47 1251.15 1410.47 1257.57 1410.47C1263.99 1410.47 1269.50 1433.60 1275.92 1433.60C1282.34 1433.60 1287.85 1410.47 1294.27 1410.47C1300.69 1410.47 1306.20 1410.47 1312.62 1410.47C1319.04 1410.47 1324.55 1410.47 1330.97 1410.47C1337.39 1410.47 1342.89 1410.47 1349.32 1410.47C1355.74 1410.47 1361.24 1410.47 1367.66 1410.47C1374.09 1410.47 1379.59 1410.47 1386.01 1410.47C1392.44 1410.47 1397.94 1410.00 1404.36 1410.00C1410.78 1410.00 1416.29 1410.00 1422.71 1410.00C1429.13 1410.00 1434.64 1410.00 1441.06 1410.00C1447.48 1410.00 1452.99 1410.47 1459.41 1410.47C1465.83 1410.47 1471.33 1410.47 1477.76 1410.47C1484.18 1410.47 1489.68 1334.13 1496.11 1334.13C1502.53 1334.13 1508.03 1355.87 1514.45 1355.87C1520.88 1355.87 1526.38 1335.05 1532.80 1335.05C1539.22 1335.05 1544.73 1360.50 1551.15 1360.50C1557.57 1360.50 1563.08 1364.20 1569.50 1364.20C1575.92 1364.20 1581.43 1405.84 1587.85 1405.84C1594.27 1405.84 1599.78 1335.51 1606.20 1335.51C1612.62 1335.51 1618.12 1356.33 1624.55 1356.33C1630.97 1356.33 1636.47 1364.20 1642.89 1364.20C1649.32 1364.20 1654.82 1391.96 1661.24 1391.96C1667.67 1391.96 1673.17 1388.26 1679.59 1388.26C1686.01 1388.26 1691.52 1384.56 1697.94 1384.56C1704.36 1384.56 1709.87 1394.27 1716.29 1394.27C1722.71 1394.27 1728.22 1410.47 1734.64 1410.47C1741.06 1410.47 1746.56 1410.47 1752.99 1410.47C1759.41 1410.47 1764.91 1392.89 1771.34 1392.89C1777.76 1392.89 1783.26 1411.39 1789.68 1411.39C1796.11 1411.39 1801.61 1273.98 1808.03 1273.98C1814.45 1273.98 1819.96 1305.90 1826.38 1305.90C1832.80 1305.90 1838.31 1272.59 1844.73 1272.59C1851.15 1272.59 1856.66 1438.23 1863.08 1438.23C1869.50 1438.23 1875.01 1173.12 1881.43 1173.12C1887.85 1173.12 1893.35 1265.65 1899.78 1265.65C1906.20 1265.65 1911.70 1167.57 1918.12 1167.57C1924.55 1167.57 1930.05 1255.47 1936.47 1255.47C1942.90 1255.47 1948.40 1239.28 1954.82 1239.28C1961.24 1239.28 1966.75 1300.81 1973.17 1300.81C1979.59 1300.81 1985.10 1325.80 1991.52 1325.80C1997.94 1325.80 2003.45 1317.93 2009.87 1317.93C2016.29 1317.93 2021.80 1337.37 2028.22 1337.37C2034.64 1337.37 2040.14 1346.16 2046.57 1346.16C2052.99 1346.16 2058.49 1354.02 2064.91 1354.02C2071.34 1354.02 2076.84 1364.20 2083.26 1364.20C2089.69 1364.20 2095.19 1321.63 2101.61 1321.63C2108.03 1321.63 2113.54 1166.18 2119.96 1166.18C2126.38 1166.18 2131.89 1165.25 2138.31 1165.25C2144.73 1165.25 2150.24 1412.32 2156.66 1412.32C2163.08 1412.32 2168.58 1503.00 2175.01 1503.00C2181.43 1503.00 2186.93 1295.96 2193.36 1295.96C2199.78 1295.96 2205.28 1418.79 2211.70 1418.79C2218.13 1418.79 2223.63 1393.35 2230.05 1393.35C2236.47 1393.35 2241.98 1385.02 2248.40 1385.02C2254.82 1385.02 2260.33 1450.72 2266.75 1450.72C2273.17 1450.72 2278.68 1383.63 2285.10 1383.63C2291.52 1383.63 2297.03 1250.15 2303.45 1250.15C2309.87 1250.15 2315.37 1181.91 2321.80 1181.91C2328.22 1181.91 2333.72 1181.91 2340.14 1181.91C2346.57 1181.91 2352.07 1114.36 2358.49 1114.36C2364.92 1114.36 2370.42 1114.36 2376.84 1114.36C2383.26 1114.36 2388.77 1115.75 2395.19 1115.75C2401.61 1115.75 2407.12 1116.67 2413.54 1116.67C2419.96 1116.67 2425.47 1114.36 2431.89 1114.36C2438.31 1114.36 2443.81 1114.36 2450.24 1114.36C2456.66 1114.36 2462.16 1114.36 2468.59 1114.36C2475.01 1114.36 2480.51 1114.36 2486.93 1114.36C2493.36 1114.36 2498.86 984.81 2505.28 984.81C2511.70 984.81 2517.21 1257.09 2523.63 1257.09C2530.05 1257.09 2535.56 1442.85 2541.98 1442.85C2548.40 1442.85 2553.91 1151.37 2560.33 1151.37C2566.75 1151.37 2572.26 865.45 2578.68 865.45C2585.10 865.45 2590.60 1175.89 2597.03 1175.89C2603.45 1175.89 2608.95 881.64 2615.38 881.64C2621.80 881.64 2627.30 1245.29 2633.72 1245.29C2640.15 1245.29 2645.65 821.03 2652.07 821.03C2658.49 821.03 2664.00 923.74 2670.42 923.74C2676.84 923.74 2682.35 926.98 2688.77 926.98C2695.19 926.98 2700.70 976.95 2707.12 976.95C2713.54 976.95 2719.05 900.15 2725.47 900.15C2731.89 900.15 2737.39 971.86 2743.82 971.86C2750.24 971.86 2755.74 954.74 2762.16 954.74C2768.59 954.74 2774.09 832.13 2780.51 832.13C2786.94 832.13 2792.44 841.85 2798.86 841.85C2805.28 841.85 2810.79 850.64 2817.21 850.64C2823.63 850.64 2829.14 914.03 2835.56 914.03C2841.98 914.03 2847.49 1358.65 2853.91 1358.65C2860.33 1358.65 2865.83 1429.90 2872.26 1429.90C2878.68 1429.90 2884.18 1357.26 2890.61 1357.26C2897.03 1357.26 2902.53 1072.72 2908.95 1072.72C2915.38 1072.72 2920.88 1310.07 2927.30 1310.07C2933.72 1310.07 2939.23 1081.97 2945.65 1081.97C2952.07 1081.97 2957.58 813.63 2964.00 813.63" fill="none" stroke="#03a9f4" stroke-width="4" stroke-linecap="butt"/>
<path d="M175.00 1503.00C181.42 1503.00 186.93 1503.00 193.35 1503.00C199.77 1503.00 205.28 1503.00 211.70 1503.00C218.12 1503.00 223.62 1503.00 230.05 1503.00C236.47 1503.00 241.97 1503.00 248.39 1503.00C254.82 1503.00 260.32 1503.00 266.74 1503.00C273.17 1503.00 278.67 1503.00 285.09 1503.00C291.51 1503.00 297.02 1503.00 303.44 1503.00C309.86 1503.00 315.37 1503.00 321.79 1503.00C328.21 1503.00 333.72 1503.00 340.14 1503.00C346.56 1503.00 352.06 1503.00 358.49 1503.00C364.91 1503.00 370.41 1503.00 376.84 1503.00C383.26 1503.00 388.76 1503.00 395.18 1503.00C401.61 1503.00 407.11 1503.00 413.53 1503.00C419.95 1503.00 425.46 1503.00 431.88 1503.00C438.30 1503.00 443.81 1503.00 450.23 1503.00C456.65 1503.00 462.16 1503.00 468.58 1503.00C475.00 1503.00 480.51 1503.00 486.93 1503.00C493.35 1503.00 498.85 1503.00 505.28 1503.00C511.70 1503.00 517.20 1503.00 523.62 1503.00C530.05 1503.00 535.55 1503.00 541.97 1503.00C548.40 1503.00 553.90 1503.00 560.32 1503.00C566.74 1503.00 572.25 1503.00 578.67 1503.00C585.09 1503.00 590.60 1503.00 597.02 1503.00C603.44 1503.00 608.95 1503.00 615.37 1503.00C621.79 1503.00 627.30 1503.00 633.72 1503.00C640.14 1503.00 645.64 1503.00 652.07 1503.00C658.49 1503.00 663.99 1503.00 670.41 1503.00C676.84 1503.00 682.34 1503.00 688.76 1503.00C695.19 1503.00 700.69 1503.00 707.11 1503.00C713.53 1503.00 719.04 1503.00 725.46 1503.00C731.88 1503.00 737.39 1503.00 743.81 1503.00C750.23 1503.00 755.74 1503.00 762.16 1503.00C768.58 1503.00 774.08 1503.00 780.51 1503.00C786.93 1503.00 792.43 1503.00 798.86 1503.00C805.28 1503.00 810.78 1503.00 817.20 1503.00C823.63 1503.00 829.13 1503.00 835.55 1503.00C841.97 1503.00 847.48 1503.00 853.90 1503.00C860.32 1503.00 865.83 1503.00 872.25 1503.00C878.67 1503.00 884.18 1503.00 890.60 1503.00C897.02 1503.00 902.53 1503.00 908.95 1503.00C915.37 1503.00 920.87 1503.00 927.30 1503.00C933.72 1503.00 939.22 1503.00 945.64 1503.00C952.07 1503.00 957.57 1503.00 963.99 1503.00C970.42 1503.00 975.92 1503.00 982.34 1503.00C988.76 1503.00 994.27 1503.00 1000.69 1503.00C1007.11 1503.00 1012.62 1502.40 1019.04 1502.40C1025.46 1502.40 1030.97 1501.15 1037.39 1501.15C1043.81 1501.15 1049.31 1501.61 1055.74 1501.61C1062.16 1501.61 1067.66 1502.58 1074.09 1502.58C1080.51 1502.58 1086.01 1502.26 1092.43 1502.26C1098.86 1502.26 1104.36 1502.21 1110.78 1502.21C1117.20 1502.21 1122.71 1502.49 1129.13 1502.49C1135.55 1502.49 1141.06 1502.40 1147.48 1502.40C1153.90 1502.40 1159.41 1502.21 1165.83 1502.21C1172.25 1502.21 1177.76 1502.35 1184.18 1502.35C1190.60 1502.35 1196.10 1502.58 1202.53 1502.58C1208.95 1502.58 1214.45 1502.26 1220.88 1502.26C1227.30 1502.26 1232.80 1502.21 1239.22 1502.21C1245.65 1502.21 1251.15 1502.49 1257.57 1502.49C1263.99 1502.49 1269.50 1502.40 1275.92 1502.40C1282.34 1502.40 1287.85 1502.21 1294.27 1502.21C1300.69 1502.21 1306.20 1502.35 1312.62 1502.35C1319.04 1502.35 1324.55 1502.58 1330.97 1502.58C1337.39 1502.58 1342.89 1502.26 1349.32 1502.26C1355.74 1502.26 1361.24 1502.21 1367.66 1502.21C1374.09 1502.21 1379.59 1501.84 1386.01 1501.84C1392.44 1501.84 1397.94 1502.40 1404.36 1502.40C1410.78 1502.40 1416.29 1502.21 1422.71 1502.21C1429.13 1502.21 1434.64 1502.35 1441.06 1502.35C1447.48 1502.35 1452.99 1502.58 1459.41 1502.58C1465.83 1502.58 1471.33 1502.26 1477.76 1502.26C1484.18 1502.26 1489.68 1502.21 1496.11 1502.21C1502.53 1502.21 1508.03 1502.54 1514.45 1502.54C1520.88 1502.54 1526.38 1502.40 1532.80 1502.40C1539.22 1502.40 1544.73 1502.21 1551.15 1502.21C1557.57 1502.21 1563.08 1502.35 1569.50 1502.35C1575.92 1502.35 1581.43 1502.58 1587.85 1502.58C1594.27 1502.58 1599.78 1502.26 1606.20 1502.26C1612.62 1502.26 1618.12 1502.21 1624.55 1502.21C1630.97 1502.21 1636.47 1502.54 1642.89 1502.54C1649.32 1502.54 1654.82 1502.40 1661.24 1502.40C1667.67 1502.40 1673.17 1502.21 1679.59 1502.21C1686.01 1502.21 1691.52 1502.35 1697.94 1502.35C1704.36 1502.35 1709.87 1502.54 1716.29 1502.54C1722.71 1502.54 1728.22 1502.26 1734.64 1502.26C1741.06 1502.26 1746.56 1502.21 1752.99 1502.21C1759.41 1502.21 1764.91 1502.54 1771.34 1502.54C1777.76 1502.54 1783.26 1502.35 1789.68 1502.35C1796.11 1502.35 1801.61 1502.21 1808.03 1502.21C1814.45 1502.21 1819.96 1500.92 1826.38 1500.92C1832.80 1500.92 1838.31 1501.61 1844.73 1501.61C1851.15 1501.61 1856.66 1502.26 1863.08 1502.26C1869.50 1502.26 1875.01 1502.21 1881.43 1502.21C1887.85 1502.21 1893.35 1500.92 1899.78 1500.92C1906.20 1500.92 1911.70 1501.61 1918.12 1501.61C1924.55 1501.61 1930.05 1502.21 1936.47 1502.21C1942.90 1502.21 1948.40 1502.35 1954.82 1502.35C1961.24 1502.35 1966.75 1502.54 1973.17 1502.54C1979.59 1502.54 1985.10 1502.21 1991.52 1502.21C1997.94 1502.21 2003.45 1502.26 2009.87 1502.26C2016.29 1502.26 2021.80 1502.54 2028.22 1502.54C2034.64 1502.54 2040.14 1502.35 2046.57 1502.35C2052.99 1502.35 2058.49 1502.21 2064.91 1502.21C2071.34 1502.21 2076.84 1502.35 2083.26 1502.35C2089.69 1502.35 2095.19 1502.54 2101.61 1502.54C2108.03 1502.54 2113.54 1502.21 2119.96 1502.21C2126.38 1502.21 2131.89 1502.26 2138.31 1502.26C2144.73 1502.26 2150.24 1502.58 2156.66 1502.58C2163.08 1502.58 2168.58 1502.35 2175.01 1502.35C2181.43 1502.35 2186.93 1501.38 2193.36 1501.38C2199.78 1501.38 2205.28 1501.38 2211.70 1501.38C2218.13 1501.38 2223.63 1501.84 2230.05 1501.84C2236.47 1501.84 2241.98 1502.21 2248.40 1502.21C2254.82 1502.21 2260.33 1502.26 2266.75 1502.26C2273.17 1502.26 2278.68 1501.61 2285.10 1501.61C2291.52 1501.61 2297.03 1502.35 2303.45 1502.35C2309.87 1502.35 2315.37 1502.21 2321.80 1502.21C2328.22 1502.21 2333.72 1502.40 2340.14 1502.40C2346.57 1502.40 2352.07 1502.54 2358.49 1502.54C2364.92 1502.54 2370.42 1502.21 2376.84 1502.21C2383.26 1502.21 2388.77 1502.26 2395.19 1502.26C2401.61 1502.26 2407.12 1502.58 2413.54 1502.58C2419.96 1502.58 2425.47 1502.35 2431.89 1502.35C2438.31 1502.35 2443.81 1502.21 2450.24 1502.21C2456.66 1502.21 2462.16 1501.61 2468.59 1501.61C2475.01 1501.61 2480.51 1501.61 2486.93 1501.61C2493.36 1501.61 2498.86 1444.70 2505.28 1444.70C2511.70 1444.70 2517.21 1501.15 2523.63 1501.15C2530.05 1501.15 2535.56 1502.58 2541.98 1502.58C2548.40 1502.58 2553.91 1502.35 2560.33 1502.35C2566.75 1502.35 2572.26 1502.21 2578.68 1502.21C2585.10 1502.21 2590.60 1502.40 2597.03 1502.40C2603.45 1502.40 2608.95 1502.49 2615.38 1502.49C2621.80 1502.49 2627.30 1502.21 2633.72 1502.21C2640.15 1502.21 2645.65 1502.26 2652.07 1502.26C2658.49 1502.26 2664.00 1497.91 2670.42 1497.91C2676.84 1497.91 2682.35 1462.29 2688.77 1462.29C2695.19 1462.29 2700.70 1501.15 2707.12 1501.15C2713.54 1501.15 2719.05 1502.40 2725.47 1502.40C2731.89 1502.40 2737.39 1501.38 2743.82 1501.38C2750.24 1501.38 2755.74 1502.21 2762.16 1502.21C2768.59 1502.21 2774.09 1502.26 2780.51 1502.26C2786.94 1502.26 2792.44 1502.58 2798.86 1502.58C2805.28 1502.58 2810.79 1502.31 2817.21 1502.31C2823.63 1502.31 2829.14 1502.21 2835.56 1502.21C2841.98 1502.21 2847.49 1502.40 2853.91 1502.40C2860.33 1502.40 2865.83 1502.49 2872.26 1502.49C2878.68 1502.49 2884.18 1502.21 2890.61 1502.21C2897.03 1502.21 2902.53 1502.26 2908.95 1502.26C2915.38 1502.26 2920.88 1502.63 2927.30 1502.63C2933.72 1502.63 2939.23 1501.38 2945.65 1501.38C2952.07 1501.38 2957.58 1499.76 2964.00 1499.76L2964.00 1503.00L175.00 1503.00Z" fill="url(#gR)" stroke="none"/>
<path d="M175.00 1503.00C181.42 1503.00 186.93 1503.00 193.35 1503.00C199.77 1503.00 205.28 1503.00 211.70 1503.00C218.12 1503.00 223.62 1503.00 230.05 1503.00C236.47 1503.00 241.97 1503.00 248.39 1503.00C254.82 1503.00 260.32 1503.00 266.74 1503.00C273.17 1503.00 278.67 1503.00 285.09 1503.00C291.51 1503.00 297.02 1503.00 303.44 1503.00C309.86 1503.00 315.37 1503.00 321.79 1503.00C328.21 1503.00 333.72 1503.00 340.14 1503.00C346.56 1503.00 352.06 1503.00 358.49 1503.00C364.91 1503.00 370.41 1503.00 376.84 1503.00C383.26 1503.00 388.76 1503.00 395.18 1503.00C401.61 1503.00 407.11 1503.00 413.53 1503.00C419.95 1503.00 425.46 1503.00 431.88 1503.00C438.30 1503.00 443.81 1503.00 450.23 1503.00C456.65 1503.00 462.16 1503.00 468.58 1503.00C475.00 1503.00 480.51 1503.00 486.93 1503.00C493.35 1503.00 498.85 1503.00 505.28 1503.00C511.70 1503.00 517.20 1503.00 523.62 1503.00C530.05 1503.00 535.55 1503.00 541.97 1503.00C548.40 1503.00 553.90 1503.00 560.32 1503.00C566.74 1503.00 572.25 1503.00 578.67 1503.00C585.09 1503.00 590.60 1503.00 597.02 1503.00C603.44 1503.00 608.95 1503.00 615.37 1503.00C621.79 1503.00 627.30 1503.00 633.72 1503.00C640.14 1503.00 645.64 1503.00 652.07 1503.00C658.49 1503.00 663.99 1503.00 670.41 1503.00C676.84 1503.00 682.34 1503.00 688.76 1503.00C695.19 1503.00 700.69 1503.00 707.11 1503.00C713.53 1503.00 719.04 1503.00 725.46 1503.00C731.88 1503.00 737.39 1503.00 743.81 1503.00C750.23 1503.00 755.74 1503.00 762.16 1503.00C768.58 1503.00 774.08 1503.00 780.51 1503.00C786.93 1503.00 792.43 1503.00 798.86 1503.00C805.28 1503.00 810.78 1503.00 817.20 1503.00C823.63 1503.00 829.13 1503.00 835.55 1503.00C841.97 1503.00 847.48 1503.00 853.90 1503.00C860.32 1503.00 865.83 1503.00 872.25 1503.00C878.67 1503.00 884.18 1503.00 890.60 1503.00C897.02 1503.00 902.53 1503.00 908.95 1503.00C915.37 1503.00 920.87 1503.00 927.30 1503.00C933.72 1503.00 939.22 1503.00 945.64 1503.00C952.07 1503.00 957.57 1503.00 963.99 1503.00C970.42 1503.00 975.92 1503.00 982.34 1503.00C988.76 1503.00 994.27 1503.00 1000.69 1503.00C1007.11 1503.00 1012.62 1502.40 1019.04 1502.40C1025.46 1502.40 1030.97 1501.15 1037.39 1501.15C1043.81 1501.15 1049.31 1501.61 1055.74 1501.61C1062.16 1501.61 1067.66 1502.58 1074.09 1502.58C1080.51 1502.58 1086.01 1502.26 1092.43 1502.26C1098.86 1502.26 1104.36 1502.21 1110.78 1502.21C1117.20 1502.21 1122.71 1502.49 1129.13 1502.49C1135.55 1502.49 1141.06 1502.40 1147.48 1502.40C1153.90 1502.40 1159.41 1502.21 1165.83 1502.21C1172.25 1502.21 1177.76 1502.35 1184.18 1502.35C1190.60 1502.35 1196.10 1502.58 1202.53 1502.58C1208.95 1502.58 1214.45 1502.26 1220.88 1502.26C1227.30 1502.26 1232.80 1502.21 1239.22 1502.21C1245.65 1502.21 1251.15 1502.49 1257.57 1502.49C1263.99 1502.49 1269.50 1502.40 1275.92 1502.40C1282.34 1502.40 1287.85 1502.21 1294.27 1502.21C1300.69 1502.21 1306.20 1502.35 1312.62 1502.35C1319.04 1502.35 1324.55 1502.58 1330.97 1502.58C1337.39 1502.58 1342.89 1502.26 1349.32 1502.26C1355.74 1502.26 1361.24 1502.21 1367.66 1502.21C1374.09 1502.21 1379.59 1501.84 1386.01 1501.84C1392.44 1501.84 1397.94 1502.40 1404.36 1502.40C1410.78 1502.40 1416.29 1502.21 1422.71 1502.21C1429.13 1502.21 1434.64 1502.35 1441.06 1502.35C1447.48 1502.35 1452.99 1502.58 1459.41 1502.58C1465.83 1502.58 1471.33 1502.26 1477.76 1502.26C1484.18 1502.26 1489.68 1502.21 1496.11 1502.21C1502.53 1502.21 1508.03 1502.54 1514.45 1502.54C1520.88 1502.54 1526.38 1502.40 1532.80 1502.40C1539.22 1502.40 1544.73 1502.21 1551.15 1502.21C1557.57 1502.21 1563.08 1502.35 1569.50 1502.35C1575.92 1502.35 1581.43 1502.58 1587.85 1502.58C1594.27 1502.58 1599.78 1502.26 1606.20 1502.26C1612.62 1502.26 1618.12 1502.21 1624.55 1502.21C1630.97 1502.21 1636.47 1502.54 1642.89 1502.54C1649.32 1502.54 1654.82 1502.40 1661.24 1502.40C1667.67 1502.40 1673.17 1502.21 1679.59 1502.21C1686.01 1502.21 1691.52 1502.35 1697.94 1502.35C1704.36 1502.35 1709.87 1502.54 1716.29 1502.54C1722.71 1502.54 1728.22 1502.26 1734.64 1502.26C1741.06 1502.26 1746.56 1502.21 1752.99 1502.21C1759.41 1502.21 1764.91 1502.54 1771.34 1502.54C1777.76 1502.54 1783.26 1502.35 1789.68 1502.35C1796.11 1502.35 1801.61 1502.21 1808.03 1502.21C1814.45 1502.21 1819.96 1500.92 1826.38 1500.92C1832.80 1500.92 1838.31 1501.61 1844.73 1501.61C1851.15 1501.61 1856.66 1502.26 1863.08 1502.26C1869.50 1502.26 1875.01 1502.21 1881.43 1502.21C1887.85 1502.21 1893.35 1500.92 1899.78 1500.92C1906.20 1500.92 1911.70 1501.61 1918.12 1501.61C1924.55 1501.61 1930.05 1502.21 1936.47 1502.21C1942.90 1502.21 1948.40 1502.35 1954.82 1502.35C1961.24 1502.35 1966.75 1502.54 1973.17 1502.54C1979.59 1502.54 1985.10 1502.21 1991.52 1502.21C1997.94 1502.21 2003.45 1502.26 2009.87 1502.26C2016.29 1502.26 2021.80 1502.54 2028.22 1502.54C2034.64 1502.54 2040.14 1502.35 2046.57 1502.35C2052.99 1502.35 2058.49 1502.21 2064.91 1502.21C2071.34 1502.21 2076.84 1502.35 2083.26 1502.35C2089.69 1502.35 2095.19 1502.54 2101.61 1502.54C2108.03 1502.54 2113.54 1502.21 2119.96 1502.21C2126.38 1502.21 2131.89 1502.26 2138.31 1502.26C2144.73 1502.26 2150.24 1502.58 2156.66 1502.58C2163.08 1502.58 2168.58 1502.35 2175.01 1502.35C2181.43 1502.35 2186.93 1501.38 2193.36 1501.38C2199.78 1501.38 2205.28 1501.38 2211.70 1501.38C2218.13 1501.38 2223.63 1501.84 2230.05 1501.84C2236.47 1501.84 2241.98 1502.21 2248.40 1502.21C2254.82 1502.21 2260.33 1502.26 2266.75 1502.26C2273.17 1502.26 2278.68 1501.61 2285.10 1501.61C2291.52 1501.61 2297.03 1502.35 2303.45 1502.35C2309.87 1502.35 2315.37 1502.21 2321.80 1502.21C2328.22 1502.21 2333.72 1502.40 2340.14 1502.40C2346.57 1502.40 2352.07 1502.54 2358.49 1502.54C2364.92 1502.54 2370.42 1502.21 2376.84 1502.21C2383.26 1502.21 2388.77 1502.26 2395.19 1502.26C2401.61 1502.26 2407.12 1502.58 2413.54 1502.58C2419.96 1502.58 2425.47 1502.35 2431.89 1502.35C2438.31 1502.35 2443.81 1502.21 2450.24 1502.21C2456.66 1502.21 2462.16 1501.61 2468.59 1501.61C2475.01 1501.61 2480.51 1501.61 2486.93 1501.61C2493.36 1501.61 2498.86 1444.70 2505.28 1444.70C2511.70 1444.70 2517.21 1501.15 2523.63 1501.15C2530.05 1501.15 2535.56 1502.58 2541.98 1502.58C2548.40 1502.58 2553.91 1502.35 2560.33 1502.35C2566.75 1502.35 2572.26 1502.21 2578.68 1502.21C2585.10 1502.21 2590.60 1502.40 2597.03 1502.40C2603.45 1502.40 2608.95 1502.49 2615.38 1502.49C2621.80 1502.49 2627.30 1502.21 2633.72 1502.21C2640.15 1502.21 2645.65 1502.26 2652.07 1502.26C2658.49 1502.26 2664.00 1497.91 2670.42 1497.91C2676.84 1497.91 2682.35 1462.29 2688.77 1462.29C2695.19 1462.29 2700.70 1501.15 2707.12 1501.15C2713.54 1501.15 2719.05 1502.40 2725.47 1502.40C2731.89 1502.40 2737.39 1501.38 2743.82 1501.38C2750.24 1501.38 2755.74 1502.21 2762.16 1502.21C2768.59 1502.21 2774.09 1502.26 2780.51 1502.26C2786.94 1502.26 2792.44 1502.58 2798.86 1502.58C2805.28 1502.58 2810.79 1502.31 2817.21 1502.31C2823.63 1502.31 2829.14 1502.21 2835.56 1502.21C2841.98 1502.21 2847.49 1502.40 2853.91 1502.40C2860.33 1502.40 2865.83 1502.49 2872.26 1502.49C2878.68 1502.49 2884.18 1502.21 2890.61 1502.21C2897.03 1502.21 2902.53 1502.26 2908.95 1502.26C2915.38 1502.26 2920.88 1502.63 2927.30 1502.63C2933.72 1502.63 2939.23 1501.38 2945.65 1501.38C2952.07 1501.38 2957.58 1499.76 2964.00 1499.76" fill="none" stroke="#3f51b5" stroke-width="4"/>
<line x1="175.0" x2="2964.0" y1="1503.0" y2="1503.0" stroke="#1aa3ee" stroke-width="4"/>
</g>
<text x="155.5" y="816.30" text-anchor="end" font-size="22" fill="#373d3f">15000</text>
<text x="155.5" y="1047.63" text-anchor="end" font-size="22" fill="#373d3f">10000</text>
<text x="155.5" y="1278.97" text-anchor="end" font-size="22" fill="#373d3f">5000</text>
<text x="155.5" y="1510.80" text-anchor="end" font-size="22" fill="#373d3f">0</text>
<text x="175.00" y="1551.3" text-anchor="middle" font-size="24" fill="#373d3f" font-weight="700">Jun '25</text>
<text x="431.88" y="1551.3" text-anchor="middle" font-size="24" fill="#373d3f">15 Jun</text>
<text x="725.46" y="1551.3" text-anchor="middle" font-size="24" fill="#373d3f" font-weight="700">Jul '25</text>
<text x="982.34" y="1551.3" text-anchor="middle" font-size="24" fill="#373d3f">15 Jul</text>
<text x="1294.27" y="1551.3" text-anchor="middle" font-size="24" fill="#373d3f" font-weight="700">Aug '25</text>
<text x="1551.15" y="1551.3" text-anchor="middle" font-size="24" fill="#373d3f">15 Aug</text>
<text x="1863.08" y="1551.3" text-anchor="middle" font-size="24" fill="#373d3f" font-weight="700">Sep '25</text>
<text x="2119.96" y="1551.3" text-anchor="middle" font-size="24" fill="#373d3f">15 Sep</text>
<text x="2413.54" y="1551.3" text-anchor="middle" font-size="24" fill="#373d3f" font-weight="700">Oct '25</text>
<text x="2670.42" y="1551.3" text-anchor="middle" font-size="24" fill="#373d3f">15 Oct</text>
<rect x="639.3" y="1639" width="51.5" height="8.4" fill="#03a9f4"/>
<text x="710.9" y="1652.3" font-size="28" font-weight="700" fill="#373d3f">Unique Opens</text>
<rect x="963.4" y="1639" width="51.5" height="8.4" fill="#1de9b6"/>
<text x="1034.2" y="1652.3" font-size="28" font-weight="700" fill="#373d3f">Unsubscribed</text>
<rect x="1284.2" y="1639" width="51.5" height="8.4" fill="#3f51b5"/>
<text x="1355.3" y="1652.3" font-size="28" font-weight="700" fill="#373d3f">Bounced</text>
<rect x="1537.9" y="1639" width="51.5" height="8.4" fill="#f48fb1"/>
<text x="1609.0" y="1652.3" font-size="28" font-weight="700" fill="#373d3f">Interested</text>
<rect x="1805.6" y="1639" width="51.5" height="8.4" fill="#03a9f4"/>
<text x="1876.3" y="1652.3" font-size="28" font-weight="700" fill="#373d3f">Sent</text>
<rect x="2000.8" y="1639" width="51.5" height="8.4" fill="#1de9b6"/>
<text x="2070.7" y="1652.3" font-size="28" font-weight="700" fill="#373d3f">Total Opens</text>
<rect x="2294.7" y="1639" width="51.5" height="8.4" fill="#3f51b5"/>
<text x="2365.8" y="1652.3" font-size="28" font-weight="700" fill="#373d3f">Replied</text>
<g transform="translate(2715.95 755.05) scale(1.4)"><path fill="#6e8192" d="M13 7h-2v4H7v2h4v4h2v-4h4v-2h-4V7zm-1-5C6.48 2 2 6.48 2 12s4.48 10 10 10 10-4.48 10-10S17.52 2 12 2zm0 18c-4.41 0-8-3.59-8-8s3.59-8 8-8 8 3.59 8 8-3.59 8-8 8z"/></g>
<g transform="translate(2756.10 755.05) scale(1.4)"><path fill="#6e8192" d="M7 11v2h10v-2H7zm5-9C6.48 2 2 6.48 2 12s4.48 10 10 10 10-4.48 10-10S17.52 2 12 2zm0 18c-4.41 0-8-3.59-8-8s3.59-8 8-8 8 3.59 8 8-3.59 8-8 8z"/></g>
<g transform="translate(2798.90 752.00) scale(1.7)"><path fill="#008ffb" d="M15.5 14h-.79l-.28-.27C15.41 12.59 16 11.11 16 9.5 16 5.91 13.09 3 9.5 3S3 5.91 3 9.5 5.91 16 9.500 16c1.61 0 3.09-.59 4.23-1.57l.27.28v.79l5 4.99L20.49 19l-4.99-5zm-6 0C7.01 14 5 11.99 5 9.5S7.01 5 9.5 5 14 7.01 14 9.5 11.99 14 9.5 14z"/><path fill="#008ffb" d="M12 10h-2v2H9v-2H7V9h2V7h1v2h2v1z"/></g>
<svg x="2845.52" y="756.52" width="29.76" height="29.76" viewBox="0 0 24 24"><path fill="#fff" stroke="#6e8192" stroke-width="2" d="M23 5.5V20c0 2.2-1.800 4-4 4h-7.300c-1.080 0-2.100-.43-2.850-1.190L1 14.830s1.260-1.230 1.300-1.250c.22-.19.49-.29.79-.29.22 0 .42.060.6.160.4.010 4.310 2.460 4.310 2.460V4c0-.83.67-1.500 1.500-1.500S11 3.170 11 4v7h1V1.500c0-.83.67-1.500 1.500-1.500S15 .67 15 1.500V11h1V2.500c0-.83.67-1.500 1.500-1.500s1.500.67 1.500 1.500V11h1V5.500c0-.83.67-1.500 1.500-1.500s1.500.67 1.500 1.500z"/></svg>
<g transform="translate(2888.90 752.00) scale(1.7)"><path fill="#6e8192" d="M10 20v-6h4v6h5v-8h3L12 3 2 12h3v8z"/></g>
<g transform="translate(2928.90 751.90) scale(1.7)"><path fill="#6e8192" d="M3 18h18v-2H3v2zm0-5h18v-2H3v2zm0-7v2h18V6H3z"/></g>
</svg>
</section>
</body></html>
